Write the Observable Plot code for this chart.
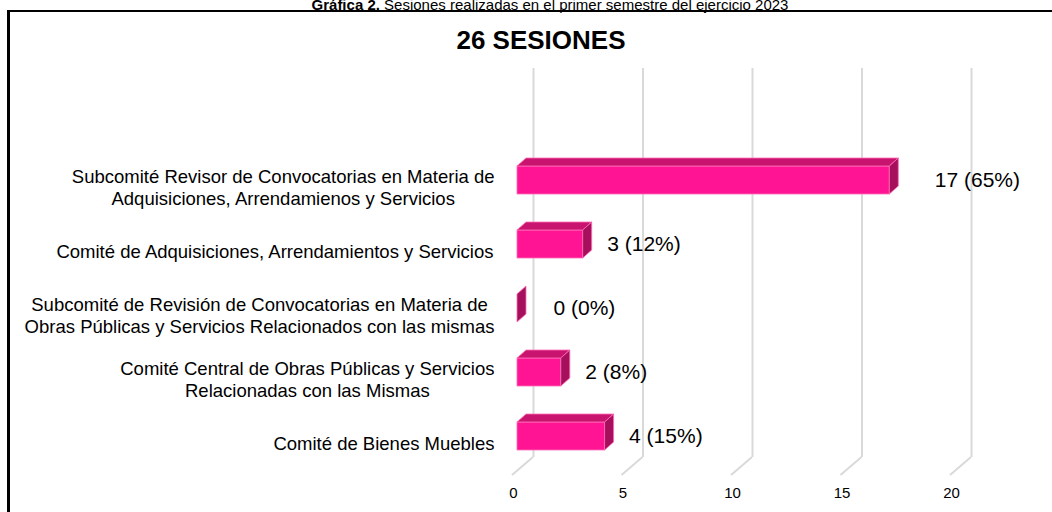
<!DOCTYPE html>
<html><head><meta charset="utf-8">
<script src="https://cdn.jsdelivr.net/npm/d3@7"></script>
<script src="https://cdn.jsdelivr.net/npm/@observablehq/plot@0.6"></script>
<style>
body{margin:0;background:#fff;width:1052px;height:512px;overflow:hidden;position:relative;font-family:"Liberation Sans",Arial,sans-serif;color:#000}
#caption{position:absolute;left:0;width:1100px;top:-3px;text-align:center;font-size:15px;line-height:15px;white-space:nowrap}
#box{position:absolute;left:7px;top:10px;width:1200px;height:600px;border-left:3px solid #000;border-top:2px solid #000;}
#title{position:absolute;left:0;width:1082px;top:27px;text-align:center;font-weight:bold;font-size:26px;line-height:26px;white-space:nowrap}
#chart{position:absolute;left:0;top:0}
</style></head><body>
<div id="caption"><b>Gráfica 2.</b> Sesiones realizadas en el primer semestre del ejercicio 2023</div>
<div id="box"></div>
<div id="title"></div>
<div id="chart"></div>
<script>
// ---- data ----
const categories = [
  "Subcomité Revisor de Convocatorias en Materia de\nAdquisiciones, Arrendamienos y Servicios",
  "Comité de Adquisiciones, Arrendamientos y Servicios",
  "Subcomité de Revisión de Convocatorias en Materia de\nObras Públicas y Servicios Relacionados con las mismas",
  "Comité Central de Obras Públicas y Servicios\nRelacionadas con las Mismas",
  "Comité de Bienes Muebles"
];
const sesiones = [17, 3, 0, 2, 4];
const xTicks = [0, 5, 10, 15, 20];

// ---- styling ----
const FRONT = 5, DX = 9, DY = 8, GRID_DX = 21, FLOOR_DY = 18;
const frontColor = "#ff1493", topColor = "#c8136f", sideColor = "#a50f5c", edgeColor = "#ff6fb8";
const gridColor = "#d9d9d9";
const labelNudge = [21, 0, 12, 0, 0];
const FONT = '"Liberation Sans", Arial, sans-serif';

const total = d3.sum(sesiones);
document.getElementById("title").textContent = `${total} SESIONES`;
const rows = categories.map((c, i) => ({cat: c, value: sesiones[i], pct: Math.round(100 * sesiones[i] / total), i}));

const ctx = document.createElement("canvas").getContext("2d");
ctx.font = `18.5px ${FONT}`;
const blockW = s => d3.max(s.split("\n"), l => ctx.measureText(l).width);

function slants(index, scales, values, dims) {
  const x = scales.x;
  const yb = dims.height - dims.marginBottom;
  const g = d3.create("svg:g").attr("stroke", gridColor).attr("stroke-width", 2).attr("fill", "none");
  for (const t of xTicks) g.append("path").attr("d", `M${x(t) + GRID_DX},${yb}L${x(t)},${yb + FLOOR_DY}`);
  return g.node();
}
function faces(index, scales) {
  const {x, y} = scales;
  const bw = y.bandwidth();
  const g = d3.create("svg:g").attr("stroke", edgeColor).attr("stroke-width", 0.8).attr("stroke-linejoin", "round");
  for (const d of rows) {
    const x0 = x(0) + FRONT, x1 = x(d.value) + FRONT, t = y(d.cat), b = t + bw;
    if (d.value > 0) g.append("path").attr("fill", topColor).attr("d", `M${x0},${t}L${x1},${t}L${x1 + DX},${t - DY}L${x0 + DX},${t - DY}Z`);
    g.append("path").attr("fill", sideColor).attr("d", `M${x1},${t}L${x1 + DX},${t - DY}L${x1 + DX},${b - DY}L${x1},${b}Z`);
  }
  return g.node();
}

const valueLabels = rows.map(d => Plot.text([d], {
  x: "value", y: "cat", text: r => `${r.value} (${r.pct}%)`,
  dx: FRONT + DX + 15 + labelNudge[d.i], textAnchor: "start", fontSize: 21, fill: "#000"
}));
const catLabels = rows.map(d => Plot.text([d], {
  x: () => 0, y: "cat", text: "cat", textAnchor: "middle", lineHeight: 1.19,
  dx: -18 - blockW(d.cat) / 2, dy: 6, fontSize: 18.5, fill: "#000"
}));

const chart = Plot.plot({
  width: 1052, height: 512,
  marginLeft: 512, marginRight: 102, marginTop: 68, marginBottom: 55,
  x: {domain: [0, 20], axis: null},
  y: {type: "band", domain: categories, range: [146.125, 469.875], paddingInner: 0.5676, paddingOuter: 0.2838, axis: null},
  style: {fontFamily: FONT, background: "transparent", color: "#000", overflow: "visible"},
  marks: [
    Plot.ruleX(xTicks, {x: d => d, dx: GRID_DX, stroke: gridColor, strokeWidth: 2}),
    slants,
    Plot.text(xTicks, {x: d => d, text: d => String(d), frameAnchor: "bottom", dy: 40, dx: 1, fontSize: 15, fill: "#000"}),
    Plot.barX(rows, {x: "value", y: "cat", dx: FRONT, fill: frontColor, stroke: edgeColor, strokeWidth: 0.8}),
    faces,
    ...valueLabels,
    ...catLabels
  ]
});
document.getElementById("chart").appendChild(chart);
</script>
</body></html>
